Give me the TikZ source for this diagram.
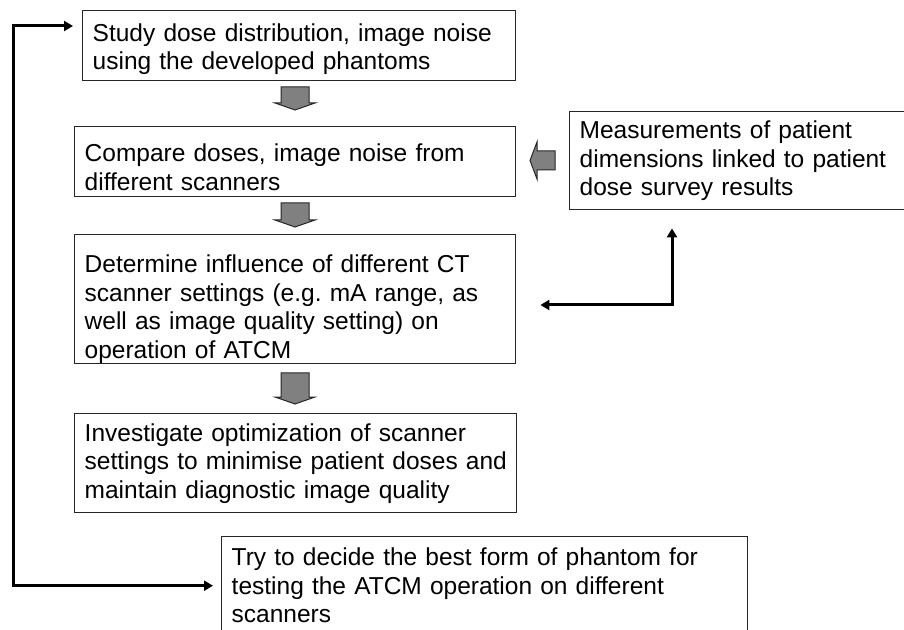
\documentclass[tikz,border=0pt]{standalone}
\usepackage{fontspec}
\setmainfont{Liberation Sans}
\usetikzlibrary{arrows.meta}
\frenchspacing
\tikzset{
  stepbox/.style={draw=black!85, line width=0.7pt, anchor=north west, align=left,
    inner xsep=5pt, inner ysep=0pt, font=\fontsize{12.25}{14.25}\selectfont},
  drop/.style={execute at begin node={\rule{0pt}{#1}}},
  link/.style={line width=1.5pt,
    {Triangle[length=4.5pt,width=5pt]}-{Triangle[length=4.5pt,width=5pt]}},
  blockarrow/.style={fill=black!50, draw=black!85, line width=0.5pt},
}
% fat grey arrow pointing down: centre x, top y, tip y
\newcommand\blockdown[3]{%
  \filldraw[blockarrow] ({#1-14},#2) -- ({#1+14},#2) -- ({#1+14},{#3-7})
    -- ({#1+20},{#3-7}) -- (#1,#3) -- ({#1-20},{#3-7}) -- ({#1-14},{#3-7}) -- cycle;}

\begin{document}
\begin{tikzpicture}[x=0.5pt,y=-0.5pt]
  \useasboundingbox (0,0) rectangle (904,630);

  \node[stepbox, drop=12.5pt, text width=206.5pt, minimum height=35pt] (study) at (82,10)
    {Study dose distribution, image noise\\ using the developed phantoms};
  \node[stepbox, drop=14.5pt, text width=210.5pt, minimum height=35pt] (compare) at (74,126)
    {Compare doses, image noise from\\ different scanners};
  \node[stepbox, drop=19pt, text width=210.5pt, minimum height=64.5pt] (det) at (74,234)
    {Determine influence of different CT\\ scanner settings (e.g. mA range, as\\
     well as image quality setting) on\\ operation of ATCM};
  \node[stepbox, text width=211pt, minimum height=49.5pt] (invest) at (74,413)
    {Investigate optimization of scanner\\ \mbox{settings to minimise patient doses and}\\
     maintain diagnostic image quality};
  \node[stepbox, text width=160.5pt, minimum height=49pt] (meas) at (569,111)
    {Measurements of patient\\ dimensions linked to patient\\ dose survey results};
  \node[stepbox, text width=253pt, minimum height=49pt] (try) at (221,536)
    {Try to decide the best form of phantom for\\ testing the ATCM operation on different\\
     scanners};

  % grey block arrows
  \blockdown{295}{87}{110}
  \blockdown{295}{203}{227}
  \blockdown{295}{373}{404}
  \filldraw[blockarrow] (555,151) -- (537,151) -- (537,142) -- (530,160.5)
    -- (537,179) -- (537,170) -- (555,170) -- cycle;

  % feedback loops
  \draw[link] ([xshift=-4pt]try.west) -- ++(-100pt,0)
    |- ([xshift=-4.5pt,yshift=-8pt]study.north west);
  \draw[link] ([xshift=12pt,yshift=-35.5pt]det.north east)
    -| ([xshift=51.5pt,yshift=-9pt]meas.south west);
\end{tikzpicture}
\end{document}
